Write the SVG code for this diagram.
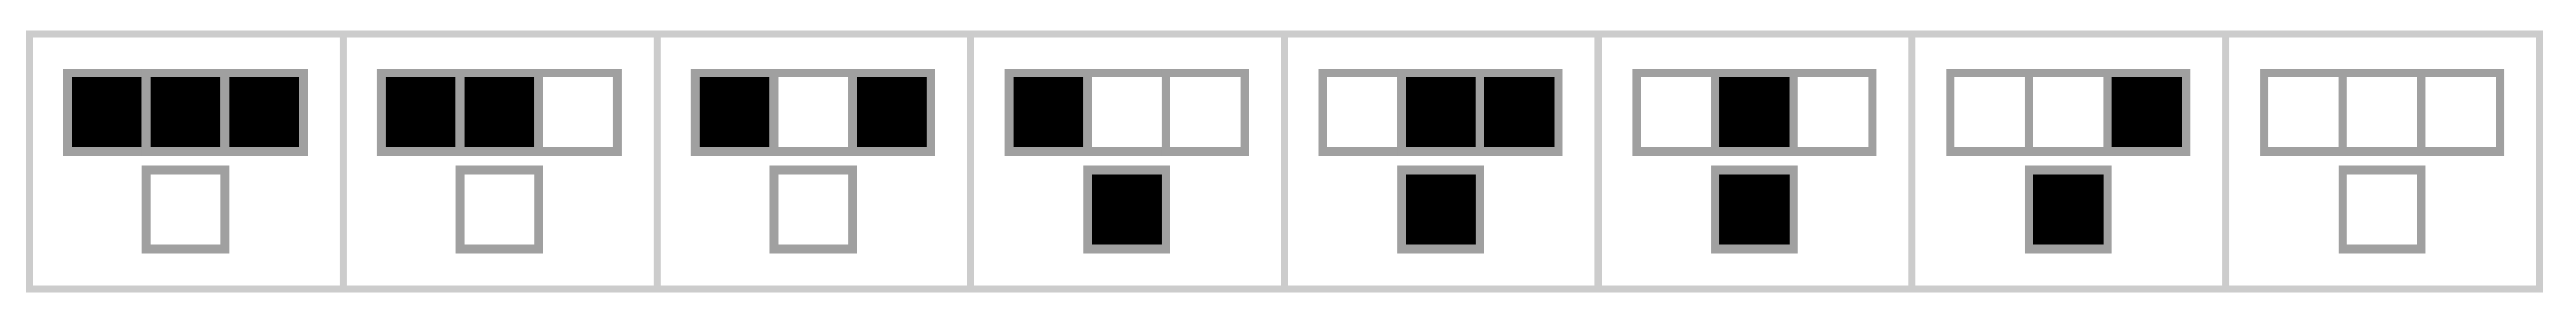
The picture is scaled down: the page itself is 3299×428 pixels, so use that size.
<svg xmlns="http://www.w3.org/2000/svg" width="3299" height="428" viewBox="0 0 3299 428">
<style>
.frame{fill:none;stroke:#cccccc;stroke-width:9}
.c{stroke:#a0a0a0;stroke-width:11}
.on{fill:#000000}
.off{fill:#ffffff}
</style>
<defs>
<rect id="cell" width="100.67" height="101"/>
</defs>
<rect width="3299" height="428" fill="#ffffff"/>
<g id="frame">
<rect class="frame" x="37.5" y="44" width="3215" height="326"/>
<line class="frame" x1="439.4" y1="44" x2="439.4" y2="370"/>
<line class="frame" x1="841.3" y1="44" x2="841.3" y2="370"/>
<line class="frame" x1="1243.1" y1="44" x2="1243.1" y2="370"/>
<line class="frame" x1="1645" y1="44" x2="1645" y2="370"/>
<line class="frame" x1="2046.9" y1="44" x2="2046.9" y2="370"/>
<line class="frame" x1="2448.8" y1="44" x2="2448.8" y2="370"/>
<line class="frame" x1="2850.6" y1="44" x2="2850.6" y2="370"/>
</g>
<g id="p111" transform="translate(0,0)">
<use href="#cell" class="c on" x="86.5" y="93.5"/><use href="#cell" class="c on" x="187.17" y="93.5"/><use href="#cell" class="c on" x="287.83" y="93.5"/>
<use href="#cell" class="c off" x="187.17" y="218"/>
</g>
<g id="p110" transform="translate(401.9,0)">
<use href="#cell" class="c on" x="86.5" y="93.5"/><use href="#cell" class="c on" x="187.17" y="93.5"/><use href="#cell" class="c off" x="287.83" y="93.5"/>
<use href="#cell" class="c off" x="187.17" y="218"/>
</g>
<g id="p101" transform="translate(803.8,0)">
<use href="#cell" class="c on" x="86.5" y="93.5"/><use href="#cell" class="c off" x="187.17" y="93.5"/><use href="#cell" class="c on" x="287.83" y="93.5"/>
<use href="#cell" class="c off" x="187.17" y="218"/>
</g>
<g id="p100" transform="translate(1205.6,0)">
<use href="#cell" class="c on" x="86.5" y="93.5"/><use href="#cell" class="c off" x="187.17" y="93.5"/><use href="#cell" class="c off" x="287.83" y="93.5"/>
<use href="#cell" class="c on" x="187.17" y="218"/>
</g>
<g id="p011" transform="translate(1607.5,0)">
<use href="#cell" class="c off" x="86.5" y="93.5"/><use href="#cell" class="c on" x="187.17" y="93.5"/><use href="#cell" class="c on" x="287.83" y="93.5"/>
<use href="#cell" class="c on" x="187.17" y="218"/>
</g>
<g id="p010" transform="translate(2009.4,0)">
<use href="#cell" class="c off" x="86.5" y="93.5"/><use href="#cell" class="c on" x="187.17" y="93.5"/><use href="#cell" class="c off" x="287.83" y="93.5"/>
<use href="#cell" class="c on" x="187.17" y="218"/>
</g>
<g id="p001" transform="translate(2411.3,0)">
<use href="#cell" class="c off" x="86.5" y="93.5"/><use href="#cell" class="c off" x="187.17" y="93.5"/><use href="#cell" class="c on" x="287.83" y="93.5"/>
<use href="#cell" class="c on" x="187.17" y="218"/>
</g>
<g id="p000" transform="translate(2813.1,0)">
<use href="#cell" class="c off" x="86.5" y="93.5"/><use href="#cell" class="c off" x="187.17" y="93.5"/><use href="#cell" class="c off" x="287.83" y="93.5"/>
<use href="#cell" class="c off" x="187.17" y="218"/>
</g>
</svg>
